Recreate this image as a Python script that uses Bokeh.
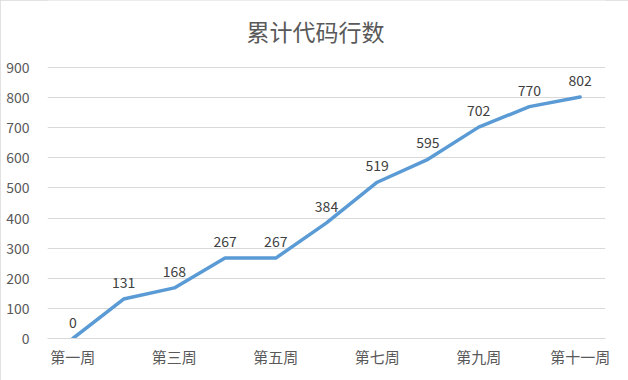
from bokeh.plotting import figure
from bokeh.models import ColumnDataSource, FixedTicker, Range1d, Label
from bokeh.embed import file_html
from bokeh.resources import INLINE

weeks = ["第一周", "第二周", "第三周", "第四周", "第五周", "第六周",
         "第七周", "第八周", "第九周", "第十周", "第十一周"]
lines = [0, 131, 168, 267, 267, 384, 519, 595, 702, 770, 802]
y_ticks = [0, 100, 200, 300, 400, 500, 600, 700, 800, 900]

FONT = "Noto Sans CJK SC"

# layout: frame spans from canvas top to y=338; value 900 sits at y=67
FRAME_H = 338
AXIS_TOP = 67
y_end = y_ticks[-1] * FRAME_H / (FRAME_H - AXIS_TOP)

idx = list(range(len(weeks)))
src = ColumnDataSource(dict(x=idx, y=lines, t=[str(v) for v in lines]))

p = figure(width=628, height=380,
           x_range=Range1d(-0.5, len(weeks) - 0.5), y_range=Range1d(0, y_end),
           output_backend="svg", toolbar_location=None,
           min_border_left=47, min_border_right=23,
           min_border_top=0, min_border_bottom=380 - FRAME_H)
p.styles = {"outline": "1px solid #d9d9d9", "outline-offset": "-1px"}
p.outline_line_color = None
p.background_fill_color = "white"
p.border_fill_color = "white"

p.line("x", "y", source=src, line_color="#5B9BD5", line_width=3.5,
       line_join="round", line_cap="round")
p.text("x", "y", text="t", source=src, text_align="center",
       text_baseline="bottom", y_offset=-11, text_color="#404040",
       text_font_size="14px", text_font={"value": FONT})

p.xgrid.grid_line_color = None
p.ygrid.grid_line_color = "#d9d9d9"
p.ygrid.grid_line_width = 1

p.yaxis.ticker = FixedTicker(ticks=y_ticks)
p.yaxis.axis_line_color = None
p.yaxis.major_tick_line_color = None
p.yaxis.minor_tick_line_color = None
p.yaxis.major_label_standoff = 12
p.yaxis.major_label_text_font_size = "14px"
p.yaxis.major_label_text_color = "#595959"
p.yaxis.major_label_text_font = FONT

p.xaxis.ticker = FixedTicker(ticks=idx[::2])
p.xaxis.major_label_overrides = {i: weeks[i] for i in idx}
p.xaxis.axis_line_color = "#d9d9d9"
p.xaxis.major_tick_line_color = None
p.xaxis.minor_tick_line_color = None
p.xaxis.major_label_standoff = 1
p.xaxis.major_label_text_font_size = "15px"
p.xaxis.major_label_text_color = "#595959"
p.xaxis.major_label_text_font = FONT

p.add_layout(Label(x=315 - 47, y=FRAME_H - 30, x_units="screen", y_units="screen",
                   text="累计代码行数", text_align="center",
                   text_baseline="middle", text_font_size="23px",
                   text_color="#595959", text_font=FONT))

open("out.html", "w").write(file_html(p, INLINE))
